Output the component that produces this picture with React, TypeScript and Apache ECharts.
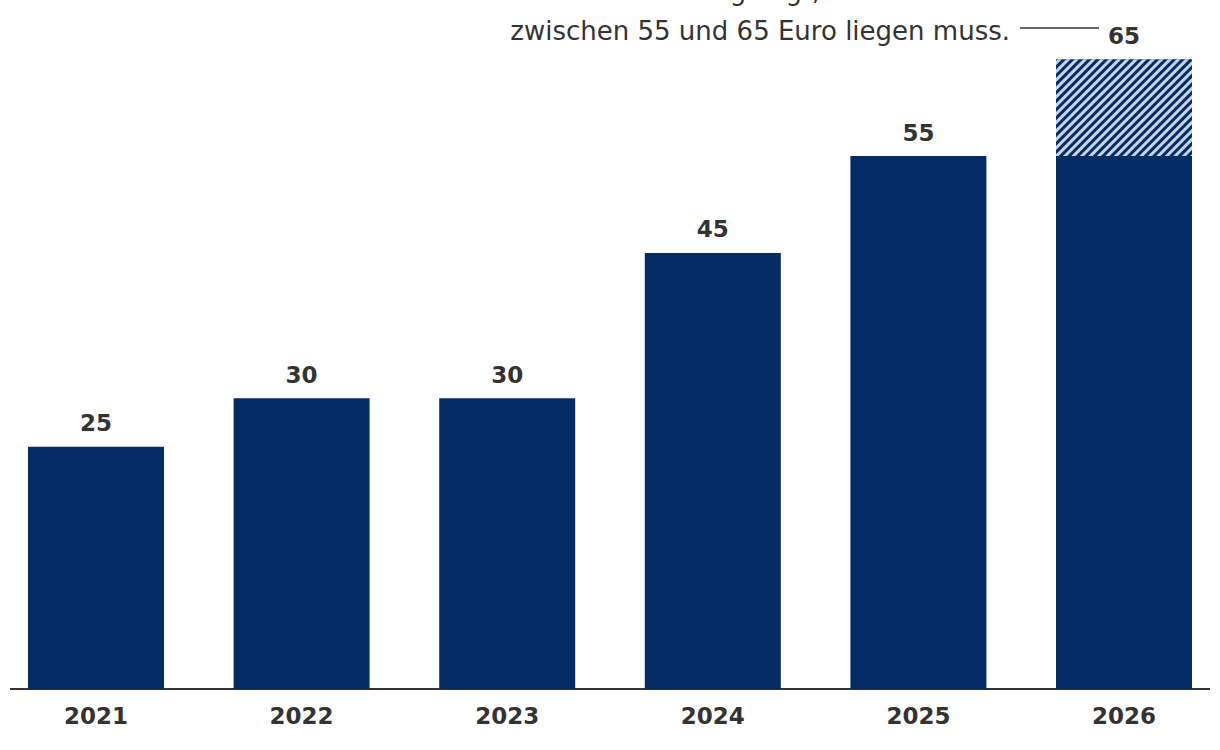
import React, { useEffect, useRef } from "react";
import * as echarts from "echarts";

const years = ["2021", "2022", "2023", "2024", "2025", "2026"];
const fixedPrice = [25, 30, 30, 45, 55, 55];
const corridorLow = 55;
const corridorHigh = 65;
const corridorExtra = [null, null, null, null, null, corridorHigh - corridorLow];
const noteLines = [
  "Für 2026 ist festgelegt, dass der Preis",
  "zwischen 55 und 65 Euro liegen muss.",
];

const NAVY = "#042c64";
const TEXT = "#333333";
const OFF = 20; // inner chart is shifted left by this many px

export default function App() {
  const ref = useRef<HTMLDivElement>(null);
  useEffect(() => {
    if (!ref.current) return;
    document.body.style.overflow = "hidden";
    const chart = echarts.init(ref.current, undefined, { renderer: "svg" });
    const labelStyle = {
      show: true,
      position: "top" as const,
      distance: 12,
      color: TEXT,
      fontFamily: "DejaVu Sans",
      fontWeight: "bold" as const,
      fontSize: 23,
    };
    chart.setOption({
      animation: false,
      grid: { left: OFF - 6.8, width: 1233.6, top: 10.7, bottom: 61, containLabel: false },
      xAxis: {
        type: "category",
        data: years,
        axisLine: { show: false },
        axisTick: { show: false },
        axisLabel: {
          color: TEXT,
          fontFamily: "DejaVu Sans",
          fontWeight: "bold",
          fontSize: 23,
          margin: 15,
        },
      },
      yAxis: {
        type: "value",
        min: 0,
        max: 70,
        show: false,
        splitLine: { show: false },
      },
      series: [
        {
          type: "bar",
          stack: "p",
          barWidth: 136,
          data: fixedPrice.map((v, i) =>
            i === fixedPrice.length - 1 ? { value: v, label: { show: false } } : v
          ),
          itemStyle: { color: NAVY },
          label: labelStyle,
        },
        {
          type: "bar",
          stack: "p",
          barWidth: 136,
          data: corridorExtra,
          itemStyle: {
            color: NAVY,
            decal: {
              symbol: "rect",
              color: "#c8d4e4",
              dashArrayX: [1, 0],
              dashArrayY: [3, 3],
              rotation: -Math.PI / 4,
            },
          },
          label: { ...labelStyle, formatter: () => String(corridorHigh) },
        },
      ],
      graphic: [
        {
          type: "line",
          shape: { x1: OFF + 10, y1: 689, x2: OFF + 1210, y2: 689 },
          style: { stroke: TEXT, lineWidth: 2 },
        },
        {
          type: "line",
          shape: { x1: OFF + 1020, y1: 28, x2: OFF + 1099, y2: 28 },
          style: { stroke: TEXT, lineWidth: 1.5 },
        },
        {
          type: "text",
          x: OFF + 1010,
          y: -9,
          style: {
            text: noteLines[0],
            fill: TEXT,
            font: "26px 'DejaVu Sans'",
            textAlign: "right",
            textVerticalAlign: "middle",
          },
        },
        {
          type: "text",
          x: OFF + 1010,
          y: 31,
          style: {
            text: noteLines[1],
            fill: TEXT,
            font: "26px 'DejaVu Sans'",
            textAlign: "right",
            textVerticalAlign: "middle",
          },
        },
      ],
    });
    return () => chart.dispose();
  }, []);
  return (
    <div
      style={{
        position: "absolute",
        left: 0,
        top: 0,
        width: 1220,
        height: 750,
        overflow: "hidden",
        background: "#fff",
      }}
    >
      <div
        ref={ref}
        style={{ position: "absolute", left: -OFF, top: 0, width: 1220 + 2 * OFF, height: 750 }}
      />
    </div>
  );
}
